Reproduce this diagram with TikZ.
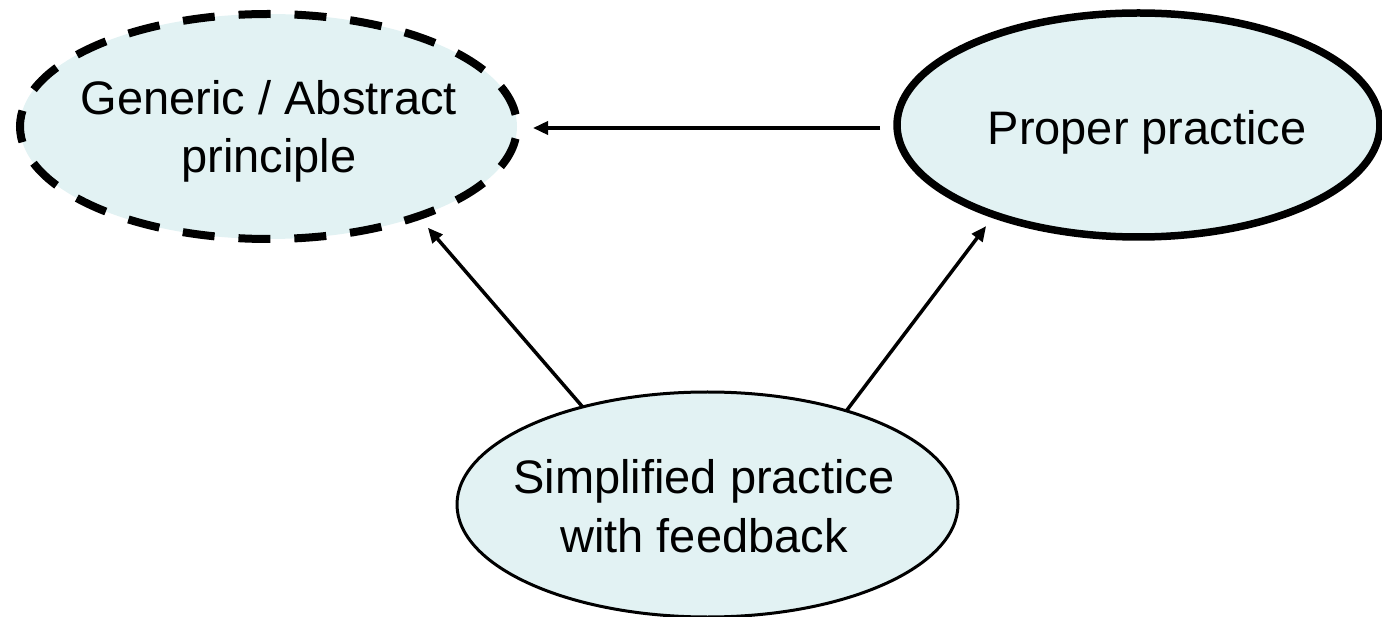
\documentclass[tikz,border=0pt]{standalone}
\usepackage{fontspec}
\setmainfont{Liberation Sans}
\usetikzlibrary{arrows.meta,shapes.geometric}
\definecolor{ellfill}{RGB}{226,242,243}
\begin{document}
\begin{tikzpicture}[x=1pt,y=-1pt,
  ell/.style={shape=ellipse, fill=ellfill, inner sep=0pt, outer sep=0pt},
  thickell/.style={ell, draw=black, line width=7.5pt},
  dashell/.style={ell, draw=black, line width=8pt, dash pattern=on 32pt off 23.94pt, dash phase=44pt},
  thinell/.style={ell, draw=black, line width=3pt},
  lbl/.style={font=\fontsize{47}{58.5}\selectfont, align=center, inner sep=0pt, anchor=base},
  conn/.style={line width=3.5pt, -{Triangle[length=15pt,width=13pt]}}
]
\useasboundingbox (0,0) rectangle (1382,617);
% ellipses
\node[dashell, minimum width=497pt, minimum height=225pt] (g) at (268.5,126.5) {};
\node[thickell, minimum width=483pt, minimum height=224pt] (p) at (1138.5,125) {};
\node[thinell, minimum width=501pt, minimum height=225pt] (s) at (707.5,504.5) {};
% labels (base anchor = baseline of the last line)
\node[lbl] (gt) at (269,173) {Generic / Abstract\\principle};
\node[lbl] (pt) at (1147,145) {Proper practice};
\node[lbl] (st) at (704,552) {Simplified practice\\with feedback};
% connectors
\draw[conn, shorten <=17pt, shorten >=16pt] ([yshift=-3pt]p.west) -- ([yshift=-3pt]p.west -| g.east);
\draw[conn, shorten >=15pt] (s.142.7) -- (g.329.6);
\draw[conn, shorten >=14pt] (s.34) -- (p.212.35);
\end{tikzpicture}
\end{document}
